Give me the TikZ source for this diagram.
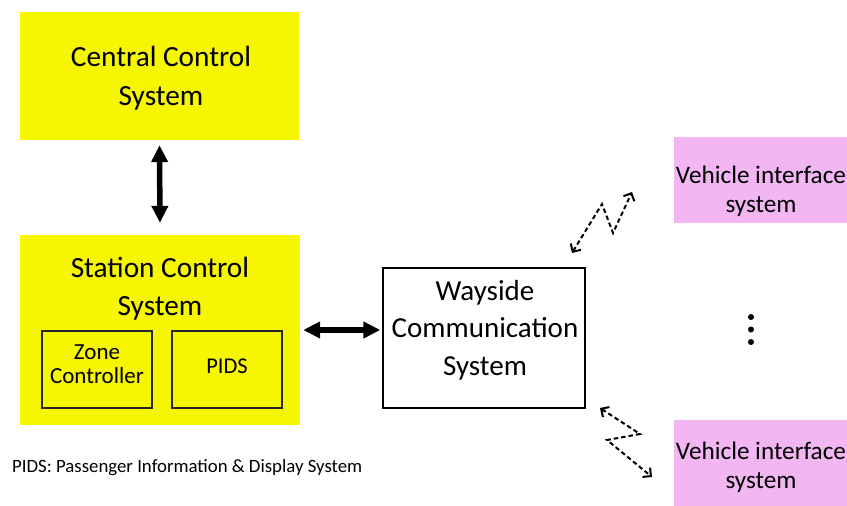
\documentclass[tikz,border=0pt]{standalone}
\usepackage{fontspec}
\setmainfont{Carlito}
\usetikzlibrary{arrows.meta}
\definecolor{ylw}{RGB}{246,246,0}
\definecolor{pnk}{RGB}{242,182,242}
\tikzset{
  ybox/.style={fill=ylw,draw=none,inner sep=0pt},
  pbox/.style={fill=pnk,draw=none,inner sep=0pt},
  wbox/.style={draw=black,line width=1.4pt,fill=white,inner sep=0pt},
  ibox/.style={draw=black!85,line width=1.3pt,inner sep=0pt},
  lbl/.style={align=center,inner sep=0pt},
  bigarrow/.style={line width=5.5pt,{Triangle[width=16pt,length=17pt]}-{Triangle[width=16pt,length=17pt]}},
  wireless/.style={line width=2pt,dash pattern=on 4.5pt off 3pt,{Straight Barb[length=6pt,width=12pt]}-{Straight Barb[length=6pt,width=12pt]}},
}
\begin{document}
\begin{tikzpicture}[x=1pt,y=-1pt]
\useasboundingbox[fill=white] (0,0) rectangle (847,506);
% Central control
\node[ybox,minimum width=279pt,minimum height=128pt] (cc) at (159.5,76) {};
\node[lbl,font=\fontsize{29.3}{39}\selectfont] (cct) at (161,78) {Central Control\\System};
% Station control
\node[ybox,minimum width=280pt,minimum height=190pt] (sc) at (160,330) {};
\node[lbl,font=\fontsize{29.3}{38}\selectfont] (sct) at (160,289) {Station Control\\System};
\node[ibox,minimum width=110pt,minimum height=77pt] (zc) at (97,369.5) {};
\node[lbl,font=\fontsize{23}{24}\selectfont] (zct) at (97,364) {Zone\\Controller};
\node[ibox,minimum width=110pt,minimum height=77pt] (pids) at (227,369.5) {};
\node[lbl,font=\fontsize{22.5}{24}\selectfont] (pidst) at (227,366) {PIDS};
% Wayside
\node[wbox,minimum width=202pt,minimum height=140pt] (ws) at (484,338) {};
\node[lbl,font=\fontsize{29}{37.5}\selectfont] (wst) at (485,330) {Wayside\\Communication\\System};
% Vehicles
\node[pbox,minimum width=173pt,minimum height=86pt] (v1) at (760.5,180) {};
\node[lbl,font=\fontsize{25.2}{29}\selectfont] (v1t) at (761,191) {Vehicle interface\\system};
\node[pbox,minimum width=173pt,minimum height=86pt] (v2) at (760.5,463) {};
\node[lbl,font=\fontsize{25.2}{29}\selectfont] (v2t) at (761,467) {Vehicle interface\\system};
% dots
\fill (751,317) circle (3pt) (751,329.5) circle (3pt) (751,342) circle (3pt);
% arrows
\draw[bigarrow,shorten <=5pt,shorten >=12pt] (cc.south) -- (sc.north);
\draw[bigarrow,shorten <=3pt,shorten >=2pt] (sc.east |- 0,330) -- (ws.west |- 0,330);
% wireless
\coordinate (a1) at (572,253);
\coordinate (a2) at (602,204);
\coordinate (a3) at (613,233);
\coordinate (a4) at (632,192);
\draw[wireless] (a1) -- (a2) -- (a3) -- (a4);
\coordinate (b1) at (600,408);
\coordinate (b2) at (640,434);
\coordinate (b3) at (607,440);
\coordinate (b4) at (652,477);
\draw[wireless] (b1) -- (b2) -- (b3) -- (b4);
% footnote
\node[anchor=west,inner sep=0pt,font=\fontsize{18.8}{22}\selectfont] (fn) at (12,468) {PIDS: Passenger Information \& Display System};
\end{tikzpicture}
\end{document}
